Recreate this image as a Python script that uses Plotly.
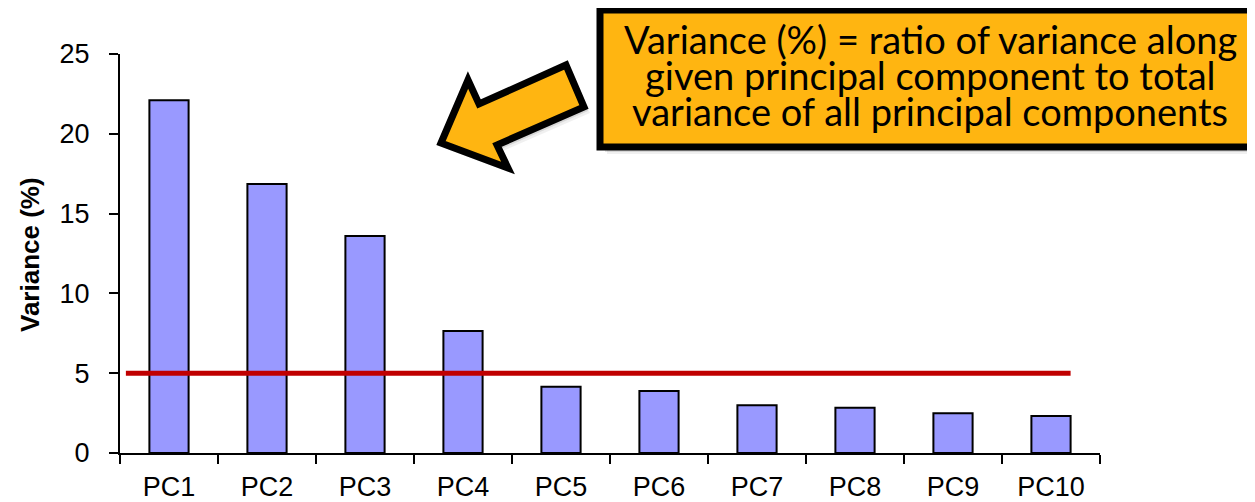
import plotly.graph_objects as go

categories = ["PC1", "PC2", "PC3", "PC4", "PC5", "PC6", "PC7", "PC8", "PC9", "PC10"]
variance_pct = [22.1, 16.85, 13.6, 7.65, 4.15, 3.88, 2.99, 2.84, 2.49, 2.32]
threshold = 5
y_ticks = [0, 5, 10, 15, 20, 25]
callout_lines = [
    "Variance (%) = ratio of variance along",
    "given principal component to total",
    "variance of all principal components",
]

# page body has an 8px margin, so the figure is drawn 8px smaller and offset
OFF = 8
W, H = 1255 - OFF, 502 - OFF
L, R, T, B = 120, 1100, 54, 453  # plot-area box in reference-page pixels


def px(x, y):
    return (x - L) / (R - L), (B - y) / (B - T)


def path_from(points, dx=0, dy=0):
    parts = []
    for i, (x, y) in enumerate(points):
        u, v = px(x + dx, y + dy)
        parts.append(("M" if i == 0 else "L") + f"{u:.5f},{v:.5f}")
    return " ".join(parts) + " Z"


fig = go.Figure()
fig.add_trace(go.Bar(
    x=categories, y=variance_pct, width=0.4,
    marker=dict(color="#9999FF", line=dict(color="black", width=2)),
    showlegend=False, hoverinfo="x+y",
))

shapes = []
shapes.append(dict(type="line", xref="x", yref="y", x0=-0.44, x1=9.2,
                   y0=threshold, y1=threshold,
                   line=dict(color="#C00000", width=5)))

# callout box shadow + box
bx0, by0, bx1, by1 = 600, 10, 1275, 147
for off, a in [(7, 0.06), (5, 0.10), (3, 0.14)]:
    u0, v0 = px(bx0 + off, by0 + off)
    u1, v1 = px(bx1 + off, by1 + off)
    shapes.append(dict(type="rect", xref="paper", yref="paper", x0=u0, x1=u1, y0=v1, y1=v0,
                       fillcolor=f"rgba(0,0,0,{a})", line=dict(width=0)))
u0, v0 = px(bx0, by0)
u1, v1 = px(bx1, by1)
shapes.append(dict(type="rect", xref="paper", yref="paper", x0=u0, x1=u1, y0=v1, y1=v0,
                   fillcolor="#FFB511", line=dict(color="black", width=7)))

# arrow
arrow_pts = [(441, 143), (468, 80), (479, 104), (566, 65), (584, 107), (497, 145), (508, 168)]
for off, a in [(6, 0.06), (4, 0.10), (2, 0.14)]:
    shapes.append(dict(type="path", xref="paper", yref="paper",
                       path=path_from(arrow_pts, off, off),
                       fillcolor=f"rgba(0,0,0,{a})", line=dict(width=0)))
shapes.append(dict(type="path", xref="paper", yref="paper", path=path_from(arrow_pts),
                   fillcolor="#FFB511", line=dict(color="black", width=7)))

annotations = []
line_centers = [39, 75, 111]
for txt, yc in zip(callout_lines, line_centers):
    u, v = px(930, yc)
    annotations.append(dict(text=txt, x=u, y=v, xref="paper", yref="paper",
                            xanchor="center", yanchor="middle", showarrow=False,
                            font=dict(family="Lato", size=38, color="black")))
u, v = px(30, 255)
annotations.append(dict(text="<b>Variance (%)</b>", x=u, y=v, xref="paper", yref="paper",
                        xanchor="center", yanchor="middle", showarrow=False, textangle=-90,
                        font=dict(family="Liberation Sans, Arial", size=26, color="black")))

fig.update_layout(
    width=W, height=H,
    margin=dict(l=L - OFF, r=W - (R - OFF), t=T - OFF, b=H - (B - OFF), pad=0),
    plot_bgcolor="white", paper_bgcolor="white",
    shapes=shapes, annotations=annotations,
)
fig.update_xaxes(
    range=[-0.5, 9.5], showline=True, linecolor="black", linewidth=2,
    ticks="outside", tickson="boundaries", ticklen=9, tickwidth=2, tickcolor="black",
    tickfont=dict(family="Liberation Sans, Arial", size=27, color="black"),
    ticklabelstandoff=9, showgrid=False, zeroline=False, automargin=False,
)
fig.update_yaxes(
    range=[0, 25], tickvals=y_ticks, showline=True, linecolor="black", linewidth=2,
    ticks="outside", ticklen=9, tickwidth=2, tickcolor="black",
    tickfont=dict(family="Liberation Sans, Arial", size=27, color="black"),
    ticklabelstandoff=14, showgrid=False, zeroline=False, automargin=False,
)

fig.write_html("out.html")
